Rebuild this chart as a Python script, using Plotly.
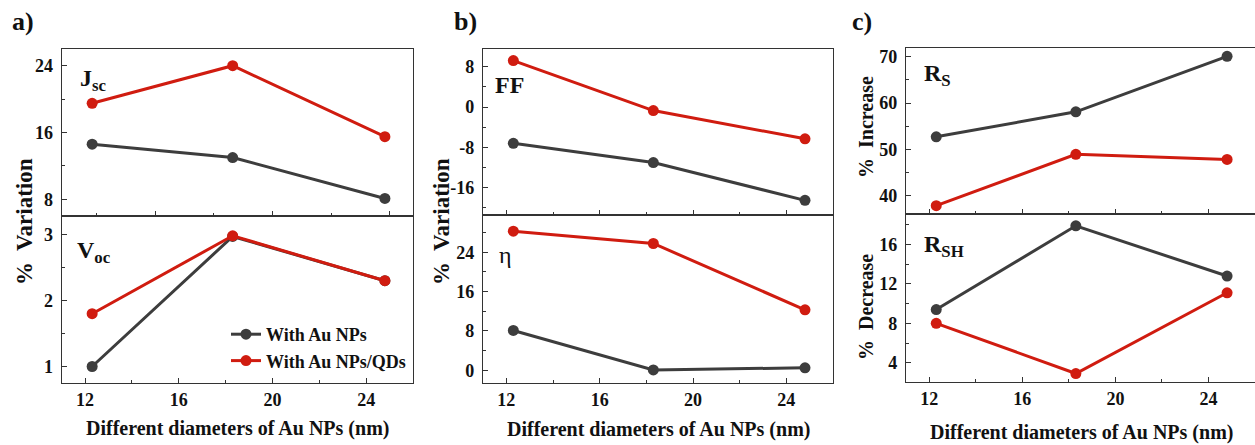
import plotly.graph_objects as go

# ---------------- data ----------------
diameters = [12.3, 18.3, 24.8]

jsc_au = [14.6, 13.0, 8.1]
jsc_qd = [19.5, 24.0, 15.5]
voc_au = [1.0, 2.97, 2.3]
voc_qd = [1.8, 2.98, 2.3]

ff_au = [-7.2, -11.0, -18.5]
ff_qd = [9.2, -0.7, -6.3]
eta_au = [8.1, 0.05, 0.5]
eta_qd = [28.3, 25.8, 12.3]

rs_au = [52.7, 58.1, 70.1]
rs_qd = [37.8, 48.9, 47.8]
rsh_au = [9.4, 17.9, 12.8]
rsh_qd = [8.0, 2.9, 11.1]

ff_ticks = [-16, -8, 0, 8]
ff_ticklabels = ["-16", "-8", "0", "8"]

series_names = ["With Au NPs", "With Au NPs/QDs"]
x_title = "Different diameters of Au NPs (nm)"

# ---------------- styles ----------------
W, H = 1255, 445
GRAY = "#3d3d3d"
RED = "#d01c10"
FONT = "Liberation Serif"
AXC = "#333333"


def px(x):
    return x / W


def py(y):
    return 1 - y / H


fig = go.Figure()

panels = [
    # (au, qd, yrange, dtick, minor, xdom, ydom)
    (jsc_au, jsc_qd, [6, 26], 8, 4, [61.7, 413], [216, 49]),
    (voc_au, voc_qd, [0.75, 3.28], 1, 0.5, [61.7, 413], [383, 216]),
    (ff_au, ff_qd, [-21.4, 11.5], 8, 4, [483, 833], [215, 49]),
    (eta_au, eta_qd, [-2.6, 31.6], 8, 4, [483, 833], [383, 215]),
    (rs_au, rs_qd, [36, 71.9], 10, 5, [906, 1255], [214, 48]),
    (rsh_au, rsh_qd, [2.04, 19.1], 4, 2, [906, 1255], [382, 214]),
]

layout = {}
for i, (au, qd, yr, dt, mn, xd, yd) in enumerate(panels):
    n = i + 1
    xa = "x" if n == 1 else f"x{n}"
    ya = "y" if n == 1 else f"y{n}"
    for vals, col, name in ((au, GRAY, series_names[0]), (qd, RED, series_names[1])):
        fig.add_trace(go.Scatter(
            x=diameters, y=vals, mode="lines+markers", name=name,
            line=dict(color=col, width=3), marker=dict(color=col, size=11),
            xaxis=xa, yaxis=ya, showlegend=(n == 2), legendgroup=name,
        ))
    is_bottom = (n % 2 == 0)
    xkey = "xaxis" if n == 1 else f"xaxis{n}"
    ykey = "yaxis" if n == 1 else f"yaxis{n}"
    if is_bottom:
        xt = dict(tickmode="array", tickvals=[12, 16, 20, 24], minor=dict(dtick=2, ticklen=3, tickcolor=AXC, ticks="inside"))
    elif n == 1:
        xt = dict(tickmode="linear", tick0=0, dtick=5, minor=dict(dtick=2.5, ticklen=3, tickcolor=AXC, ticks="inside"))
    else:
        xt = dict(tickmode="linear", tick0=0, dtick=4, minor=dict(dtick=2, ticklen=3, tickcolor=AXC, ticks="inside"))
    layout[xkey] = dict(
        domain=[px(xd[0]), min(px(xd[1]), 1.0)], range=[11, 26], anchor=ya,
        showline=True, linecolor=AXC, linewidth=1.3, mirror=True,
        ticks="inside", ticklen=5, tickcolor=AXC, showgrid=False, zeroline=False,
        showticklabels=is_bottom,
        tickfont=dict(family=FONT, size=18, color="#111", weight="bold"),
        **xt,
    )
    if n == 3:
        yt = dict(tickmode="array", tickvals=ff_ticks, ticktext=ff_ticklabels)
    else:
        yt = dict(tickmode="linear", tick0=0, dtick=dt)
    layout[ykey] = dict(
        domain=[py(yd[0]), py(yd[1])], range=yr, anchor=xa,
        showline=True, linecolor=AXC, linewidth=1.3, mirror=(n < 5),
        ticks="inside", ticklen=5, tickcolor=AXC, showgrid=False, zeroline=False,
        minor=dict(dtick=mn, tick0=0, ticklen=3, tickcolor=AXC, ticks="inside"),
        tickfont=dict(family=FONT, size=18, color="#111", weight="bold"),
        ticklabelstandoff=4,
        **yt,
    )

fig.update_layout(**layout)

ann = []
bold = dict(family=FONT, color="#111", weight="bold")

# panel letters
for txt, xx in (("a)", 10), ("b)", 452), ("c)", 850)):
    ann.append(dict(text=txt, x=px(xx), y=py(22), xref="paper", yref="paper",
                    xanchor="left", yanchor="middle", showarrow=False,
                    font=dict(size=26, **bold)))

# y titles
for txt, xx, yy, sz in (("%  Variation", 24, 222, 23), ("%  Variation", 441, 222, 23),
                        ("%  Increase", 866, 127, 20), ("%  Decrease", 866, 307, 20)):
    ann.append(dict(text=txt, x=px(xx), y=py(yy), xref="paper", yref="paper",
                    xanchor="center", yanchor="middle", textangle=-90, showarrow=False,
                    font=dict(size=sz, **bold)))

# x titles
for xx, yy in ((237.5, 428), (658, 429), (1081, 432)):
    ann.append(dict(text=x_title, x=px(xx), y=py(yy), xref="paper", yref="paper",
                    xanchor="center", yanchor="middle", showarrow=False,
                    font=dict(size=20, **bold)))

# quantity labels
labels = [
    ("J<sub>sc</sub>", "x domain", "y domain", 0.046, 0.814, True),
    ("V<sub>oc</sub>", "x2 domain", "y2 domain", 0.038, 0.784, True),
    ("FF", "x3 domain", "y3 domain", 0.028, 0.783, True),
    ("η", "x4 domain", "y4 domain", 0.04, 0.762, False),
    ("R<sub>S</sub>", "x5 domain", "y5 domain", 0.045, 0.837, True),
    ("R<sub>SH</sub>", "x6 domain", "y6 domain", 0.045, 0.81, True),
]
for txt, xr, yr, xx, yy, b in labels:
    f = dict(family=FONT, size=24, color="#111", weight="bold" if b else "normal")
    ann.append(dict(text=txt, x=xx, y=yy, xref=xr, yref=yr, xanchor="left",
                    yanchor="middle", showarrow=False, font=f))

fig.update_layout(
    width=W, height=H, margin=dict(l=0, r=0, t=0, b=0),
    paper_bgcolor="white", plot_bgcolor="white",
    annotations=ann,
    legend=dict(x=px(226), y=py(316), xanchor="left", yanchor="top",
                bgcolor="rgba(0,0,0,0)", font=dict(family=FONT, size=18, color="#111", weight="bold"),
                itemwidth=30, tracegroupgap=0),
)

fig.write_html("out.html", config={"displayModeBar": False},
               post_script="document.body.style.margin='0px';document.body.style.padding='0px';")
